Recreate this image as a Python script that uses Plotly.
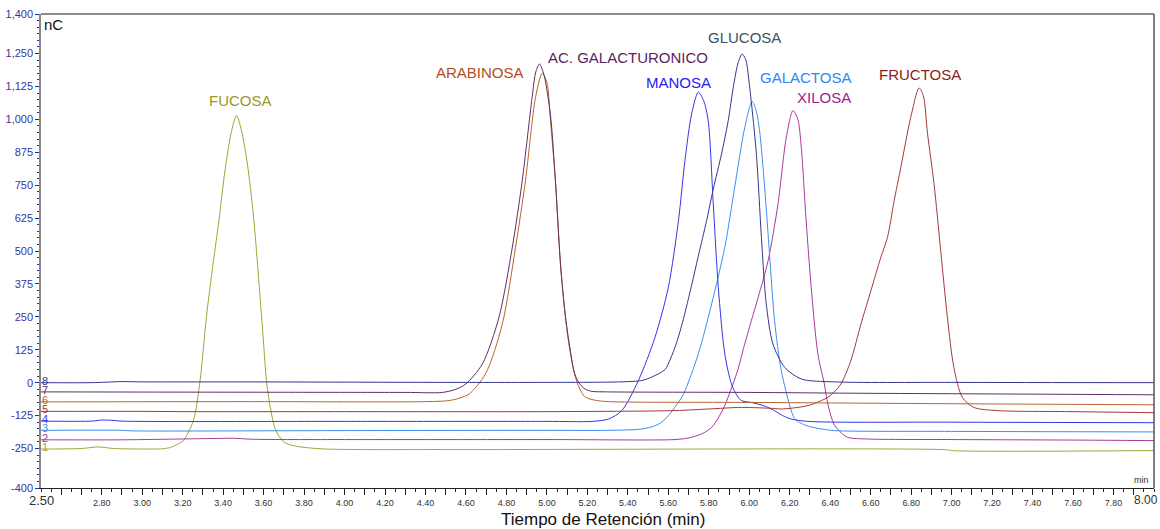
import plotly.graph_objects as go

# ---------------- data ----------------
t1 = [2.5, 2.7, 2.78, 2.86, 3.0, 3.1, 3.14, 3.18, 3.204, 3.253, 3.286, 3.319, 3.35, 3.38, 3.409, 3.442, 3.466,
      3.49, 3.52, 3.549, 3.573, 3.598, 3.614, 3.63, 3.645, 3.662, 3.7, 3.746, 3.879, 4.5, 6.98, 7.0, 8.0]
v1 = [-252, -250, -244, -250, -252, -251, -246, -232, -220, -144, 8, 261, 450, 620, 805, 957, 1014,
      960, 830, 641, 420, 170, 8, -80, -140, -185, -225, -239, -251, -254, -255, -258, -258]

t2 = [2.5, 2.9, 3.35, 3.45, 3.55, 4.0, 5.0, 5.633, 5.7, 5.764, 5.814, 5.85, 5.88, 5.91, 5.94, 5.975, 6.01,
      6.044, 6.093, 6.142, 6.183, 6.216, 6.24, 6.257, 6.281, 6.306, 6.339, 6.371, 6.388, 6.42, 6.454, 6.487,
      6.585, 7.0, 7.6, 8.0]
v2 = [-217, -217, -212, -211, -215, -216, -216, -216, -210, -195, -170, -130, -85, -25, 40, 140, 235,
      324, 463, 679, 932, 1033, 1000, 894, 615, 362, 109, -5, -81, -160, -190, -208,
      -214, -216, -218, -220]

t3 = [2.5, 2.9, 2.95, 4.0, 5.0, 5.3, 5.469, 5.53, 5.567, 5.6, 5.64, 5.675, 5.748, 5.814, 5.879, 5.928,
      5.978, 6.014, 6.035, 6.051, 6.076, 6.1, 6.125, 6.158, 6.207, 6.223, 6.25, 6.29, 6.35, 6.42, 7.0, 8.0]
v3 = [-181, -181, -183, -182, -181, -181, -176, -165, -150, -125, -85, -43, 109, 299, 514, 742,
      970, 1068, 1030, 957, 742, 489, 235, 46, -106, -135, -152, -165, -175, -182, -185, -187]

t4 = [2.5, 2.75, 2.8, 2.85, 2.9, 4.0, 5.0, 5.223, 5.305, 5.37, 5.452, 5.534, 5.6, 5.65, 5.682, 5.715,
      5.748, 5.775, 5.797, 5.822, 5.847, 5.879, 5.912, 5.94, 5.961, 6.0, 6.043, 6.08, 6.124, 6.165, 6.207,
      6.29, 7.0, 8.0]
v4 = [-146, -146, -142, -143, -146, -147, -147, -147, -138, -106, 8, 172, 362, 615, 843, 1020,
      1103, 1070, 995, 679, 362, 109, -5, -50, -68, -74, -81, -90, -106, -125, -138,
      -147, -150, -152]

t5 = [2.5, 3.0, 3.2, 4.0, 5.0, 5.633, 5.797, 5.961, 6.124, 6.158, 6.29, 6.388, 6.42, 6.453, 6.502, 6.552,
      6.601, 6.65, 6.683, 6.716, 6.749, 6.798, 6.839, 6.86, 6.881, 6.913, 6.946, 6.979, 7.011, 7.053,
      7.11, 7.225, 7.6, 8.0]
v5 = [-109, -109, -110, -110, -110, -106, -100, -94, -98, -100, -87, -56, -35, -5, 84, 223,
      349, 476, 552, 691, 818, 1008, 1119, 1090, 945, 755, 501, 248, 58, -56,
      -94, -106, -110, -114]

t6 = [2.5, 3.5, 4.4, 4.517, 4.57, 4.616, 4.697, 4.78, 4.845, 4.894, 4.944, 4.977, 5.0, 5.017, 5.042,
      5.067, 5.09, 5.11, 5.141, 5.17, 5.19, 5.24, 5.305, 6.0, 7.0, 8.0]
v6 = [-73, -72, -72, -68, -58, -43, 34, 224, 514, 767, 1084, 1175, 1140, 1000, 767,
      451, 260, 140, 20, -35, -55, -67, -72, -75, -80, -84]

t7 = [2.5, 3.3, 4.3, 4.484, 4.55, 4.599, 4.681, 4.763, 4.829, 4.878, 4.927, 4.945, 4.963, 4.985, 5.017,
      5.042, 5.067, 5.09, 5.11, 5.135, 5.157, 5.19, 5.223, 5.3, 6.0, 6.5, 7.0, 8.0]
v7 = [-35, -36, -37, -37, -25, -5, 71, 248, 514, 767, 1084, 1180, 1210, 1170, 1020,
      767, 451, 260, 150, 40, 1, -25, -33, -35, -37, -40, -42, -46]

t8 = [2.5, 2.75, 2.9, 3.0, 3.5, 4.0, 4.5, 5.0, 5.3, 5.4, 5.469, 5.52, 5.584, 5.61, 5.64, 5.674, 5.715,
      5.748, 5.789, 5.822, 5.863, 5.896, 5.921, 5.945, 5.965, 5.983, 6.002, 6.035, 6.06, 6.084, 6.117,
      6.175, 6.257, 6.42, 7.0, 8.0]
v8 = [0, 0, 4, 3, 3, 2, 1, 1, 2, 4, 8, 22, 50, 90, 150, 240, 370,
      480, 615, 735, 869, 995, 1122, 1215, 1248, 1225, 1122, 869, 552, 299, 147,
      58, 14, 3, 1, 0]

series_t = [t1, t2, t3, t4, t5, t6, t7, t8]
series_v = [v1, v2, v3, v4, v5, v6, v7, v8]
trace_ids = ["1", "2", "3", "4", "5", "6", "7", "8"]
baselines = [-252, -217, -181, -146, -109, -73, -35, 0]
line_colors = ["#a3a336", "#a8389f", "#3b8ff0", "#3535e8", "#a33a3a", "#b8632f", "#5e3066", "#35358f"]

peak_names = ["FUCOSA", "XILOSA", "GALACTOSA", "MANOSA", "FRUCTOSA", "ARABINOSA", "AC. GALACTURONICO", "GLUCOSA"]
label_t = [3.485, 6.37, 6.28, 5.648, 6.845, 4.668, 5.403, 5.978]
label_v = [1071, 1082, 1158, 1139, 1170, 1177, 1234, 1310]
label_colors = ["#999922", "#9b2192", "#2f86f5", "#2424f5", "#8b1c1c", "#b54c1c", "#5b1f5b", "#3c4f66"]

y_tickvals = [-400, -250, -125, 0, 125, 250, 375, 500, 625, 750, 875, 1000, 1125, 1250, 1400]
y_ticktext = ["-400", "-250", "-125", "0", "125", "250", "375", "500", "625", "750", "875",
              "1,000", "1,125", "1,250", "1,400"]
x_tickvals = [2.6, 2.7, 2.8, 2.9, 3.0, 3.1, 3.2, 3.3, 3.4, 3.5, 3.6, 3.7, 3.8, 3.9, 4.0, 4.1, 4.2, 4.3, 4.4,
              4.5, 4.6, 4.7, 4.8, 4.9, 5.0, 5.1, 5.2, 5.3, 5.4, 5.5, 5.6, 5.7, 5.8, 5.9, 6.0, 6.1, 6.2, 6.3,
              6.4, 6.5, 6.6, 6.7, 6.8, 6.9, 7.0, 7.1, 7.2, 7.3, 7.4, 7.5, 7.6, 7.7, 7.8, 7.9]
x_ticktext = ["" if (round(v * 10) % 2 == 1 or v < 2.7) else f"{v:.2f}" for v in x_tickvals]

FONT = "Arial, Liberation Sans, sans-serif"

fig = go.Figure()
for t, v, c, n in zip(series_t, series_v, line_colors, trace_ids):
    fig.add_trace(go.Scatter(x=t, y=v, mode="lines", line=dict(color=c, width=1, shape="spline", smoothing=0.8),
                             name=n, showlegend=False, hoverinfo="skip"))

annotations = []
for n, b, c in zip(trace_ids, baselines, line_colors):
    annotations.append(dict(x=2.5, y=b + 8, xref="x", yref="y", text=n, showarrow=False, xshift=-1,
                            xanchor="left", yanchor="middle", font=dict(family=FONT, size=11, color=c)))
for name, lt, lv, c in zip(peak_names, label_t, label_v, label_colors):
    annotations.append(dict(x=lt, y=lv, xref="x", yref="y", text=name, showarrow=False,
                            xanchor="center", yanchor="middle", font=dict(family=FONT, size=15, color=c)))
annotations += [
    dict(x=0, y=0, xref="paper", yref="paper", text="2.50", showarrow=False, xanchor="center", yanchor="top",
         yshift=-3, font=dict(family=FONT, size=13, color="#333333")),
    dict(x=1, y=0, xref="paper", yref="paper", text="8.00", showarrow=False, xanchor="right", yanchor="top",
         xshift=6, yshift=-3, font=dict(family=FONT, size=12, color="#333333")),
    dict(x=7.985, y=-400, xref="x", yref="y", text="min", showarrow=False, xanchor="right", yanchor="bottom",
         yshift=1, font=dict(family=FONT, size=9, color="#333333")),
    dict(x=2.505, y=1400, xref="x", yref="y", text="nC", showarrow=False, xanchor="left", yanchor="top",
         font=dict(family=FONT, size=15, color="#111111")),
    dict(x=0.505, y=0, xref="paper", yref="paper", text="Tiempo de Retención (min)", showarrow=False,
         xanchor="center", yanchor="top", yshift=-20, font=dict(family=FONT, size=17, color="#111111")),
]

fig.update_layout(
    width=1160, height=529,
    margin=dict(l=37, r=6, t=14, b=41),
    plot_bgcolor="white", paper_bgcolor="white",
    font=dict(family=FONT),
    annotations=annotations,
    shapes=[
        dict(type="line", xref="paper", yref="paper", x0=0, x1=1, y0=1, y1=1, line=dict(color="#666666", width=1.5)),
        dict(type="line", xref="paper", yref="paper", x0=1, x1=1, y0=0, y1=1, line=dict(color="#555555", width=1.5)),
    ],
    xaxis=dict(range=[2.5, 8.0], tickvals=x_tickvals, ticktext=x_ticktext, ticks="outside", ticklen=6,
               tickcolor="#222222", showgrid=False, zeroline=False, showline=True, linecolor="#222222",
               linewidth=1, tickfont=dict(family=FONT, size=9, color="#333333"),
               minor=dict(dtick=0.05, tick0=2.5, ticks="outside", ticklen=3, tickcolor="#222222")),
    yaxis=dict(range=[-400, 1400], tickvals=y_tickvals, ticktext=y_ticktext, ticks="outside", ticklen=4,
               tickcolor="#2a2aa0", showgrid=False, zeroline=False, showline=True, linecolor="#888888",
               linewidth=1.5, tickfont=dict(family=FONT, size=11, color="#3535a5"),
               minor=dict(dtick=25, tick0=0, ticks="outside", ticklen=2, tickcolor="#2a2aa0")),
)

fig.write_html("out.html")
